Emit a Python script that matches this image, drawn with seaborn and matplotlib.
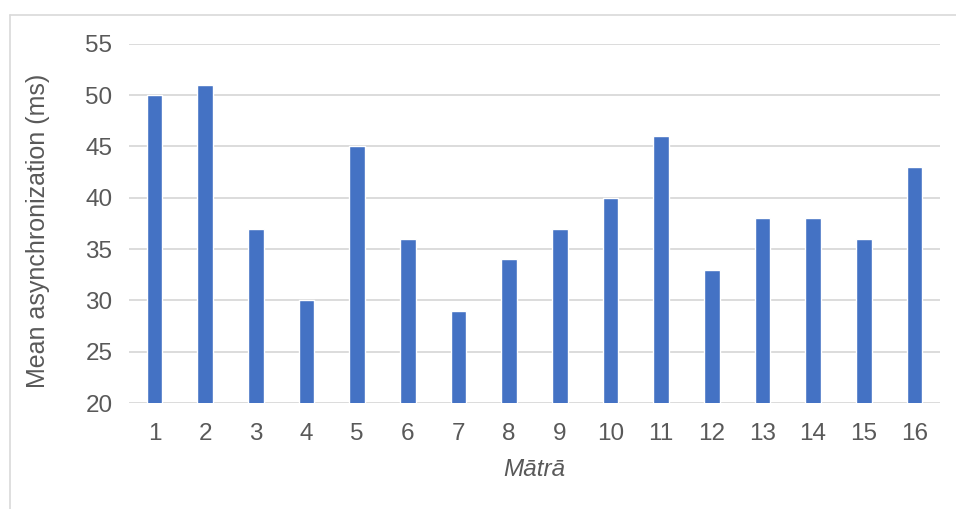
import pandas as pd
import matplotlib.pyplot as plt
import seaborn as sns
from matplotlib.lines import Line2D

# data
matra = [str(i) for i in range(1, 17)]
mean_async = [50, 51, 37, 30, 45, 36, 29, 34, 37, 40, 46, 33, 38, 38, 36, 43]

BAR = "#4472C4"
TXT = "#595959"
GRID = "#D9D9D9"


def main():
    df = pd.DataFrame({"Matra": matra, "Async": mean_async})

    sns.set_theme(style="white")
    plt.rcParams["font.family"] = ["Liberation Sans", "DejaVu Sans"]

    fig = plt.figure(figsize=(9.56, 5.09), dpi=100)
    ax = fig.add_axes([0.135, 0.208, 0.848, 0.706])

    sns.barplot(data=df, x="Matra", y="Async", color=BAR, width=0.31,
                saturation=1, ax=ax, zorder=3)

    ax.set_ylim(20, 55)
    ax.set_yticks(range(20, 56, 5))
    ax.grid(axis="y", color=GRID, linewidth=1.3, zorder=0)
    for s in ax.spines.values():
        s.set_visible(False)
    ax.tick_params(axis="both", length=0, labelsize=17.5, colors=TXT)
    ax.tick_params(axis="y", pad=12)
    ax.tick_params(axis="x", pad=14)

    ax.set_xlabel("Mātrā", fontsize=17.5, color=TXT, style="italic", labelpad=10)
    ax.set_ylabel("Mean asynchronization (ms)", fontsize=18, color=TXT)
    ax.yaxis.set_label_coords(-0.0975, 0.48)

    # chart area border (only top and left visible in the crop)
    fig.add_artist(Line2D([10 / 956, 10 / 956], [0, 1 - 15 / 509],
                          transform=fig.transFigure, color=GRID, linewidth=1.2))
    fig.add_artist(Line2D([10 / 956, 1], [1 - 15 / 509, 1 - 15 / 509],
                          transform=fig.transFigure, color=GRID, linewidth=1.2))

    fig.savefig("out.png", dpi=100)


if __name__ == "__main__":
    main()
